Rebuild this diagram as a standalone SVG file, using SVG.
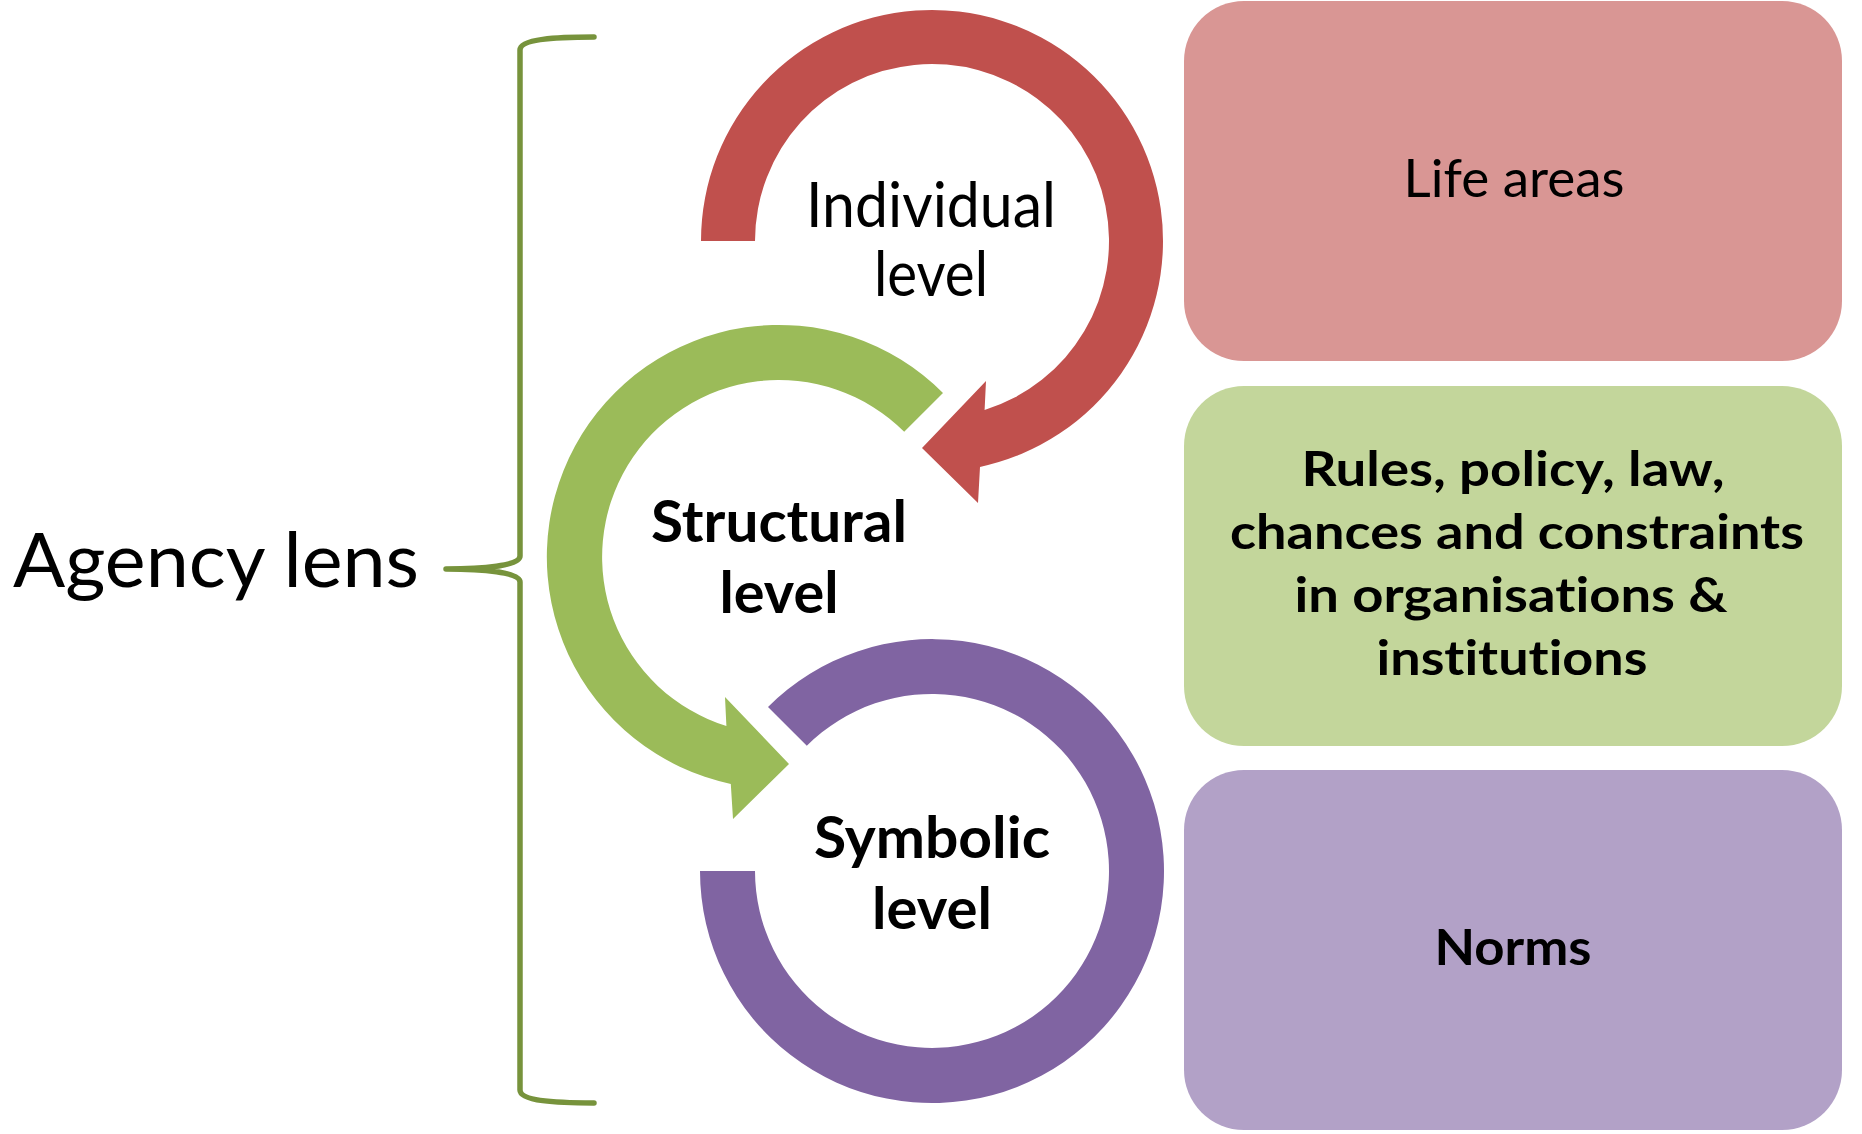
<svg xmlns="http://www.w3.org/2000/svg" width="1862" height="1134" viewBox="0 0 1862 1134">
  <style>
    .lbl { font-family: "Lato", "Open Sans", "Liberation Sans", sans-serif; fill: #000000; font-variant-ligatures: none; }
    .b { font-weight: bold; }
    .red { fill: #C0504D; }
    .green { fill: #9BBB59; }
    .purple { fill: #8064A2; }
    .box-red { fill: #D99694; }
    .box-green { fill: #C3D69B; }
    .box-purple { fill: #B2A1C7; }
    .brace { fill: none; stroke: #77933C; stroke-width: 5.5; stroke-linecap: round; stroke-linejoin: round; }
  </style>
  <rect x="0" y="0" width="1862" height="1134" fill="#FFFFFF"/>

  <g id="agency-lens">
    <text class="lbl" x="13" y="587" font-size="75" textLength="406" lengthAdjust="spacingAndGlyphs">Agency lens</text>
  </g>

  <g id="connectors">
    <path class="brace" d="M594,37 C556,37 520,39 520,50 L520,556 C520,566 482,569 446,569 C482,569 520,572 520,582 L520,1090 C520,1101 556,1103 594,1103"/>
  </g>

  <g id="individual-level">
    <path class="red" d="M701,241 A231,231 0 1 1 980,466.9 L978,503 L922,448 L986,381 L984.6,410 A177,177 0 1 0 755,241 Z"/>
    <text class="lbl" x="931" y="227" font-size="61" text-anchor="middle" textLength="250" lengthAdjust="spacingAndGlyphs">Individual</text>
    <text class="lbl" x="931" y="296" font-size="61" text-anchor="middle" textLength="114" lengthAdjust="spacingAndGlyphs">level</text>
  </g>

  <g id="structural-level">
    <path class="green" d="M943,393 A232,232 0 1 0 730.8,783.9 L733,819 L789,764 L725,697 L726.4,726 A177,177 0 1 1 904.2,431.8 Z"/>
    <text class="lbl b" x="779" y="542" font-size="58" text-anchor="middle" textLength="256" lengthAdjust="spacingAndGlyphs">Structural</text>
    <text class="lbl b" x="779" y="613" font-size="58" text-anchor="middle" textLength="119" lengthAdjust="spacingAndGlyphs">level</text>
  </g>

  <g id="symbolic-level">
    <path class="purple" d="M768,707 A232,232 0 1 1 700,871 L755,871 A177,177 0 1 0 806.8,745.8 Z"/>
    <text class="lbl b" x="932" y="858" font-size="58" text-anchor="middle" textLength="236" lengthAdjust="spacingAndGlyphs">Symbolic</text>
    <text class="lbl b" x="932" y="929" font-size="58" text-anchor="middle" textLength="120" lengthAdjust="spacingAndGlyphs">level</text>
  </g>

  <g id="life-areas">
    <rect class="box-red" x="1184" y="1" width="658" height="360" rx="60" ry="60"/>
    <text class="lbl" x="1514" y="197" font-size="53" text-anchor="middle" textLength="221" lengthAdjust="spacingAndGlyphs">Life areas</text>
  </g>

  <g id="rules">
    <rect class="box-green" x="1184" y="386" width="658" height="360" rx="60" ry="60"/>
    <text class="lbl b" x="1513" y="486" font-size="48" text-anchor="middle" textLength="423" lengthAdjust="spacingAndGlyphs">Rules, policy, law,</text>
    <text class="lbl b" x="1517" y="549" font-size="48" text-anchor="middle" textLength="574" lengthAdjust="spacingAndGlyphs">chances and constraints</text>
    <text class="lbl b" x="1511" y="612" font-size="48" text-anchor="middle" textLength="433" lengthAdjust="spacingAndGlyphs">in organisations &amp;</text>
    <text class="lbl b" x="1512" y="675" font-size="48" text-anchor="middle" textLength="271" lengthAdjust="spacingAndGlyphs">institutions</text>
  </g>

  <g id="norms">
    <rect class="box-purple" x="1184" y="770" width="658" height="360" rx="60" ry="60"/>
    <text class="lbl b" x="1513" y="965" font-size="49" text-anchor="middle" textLength="157" lengthAdjust="spacingAndGlyphs">Norms</text>
  </g>
</svg>
